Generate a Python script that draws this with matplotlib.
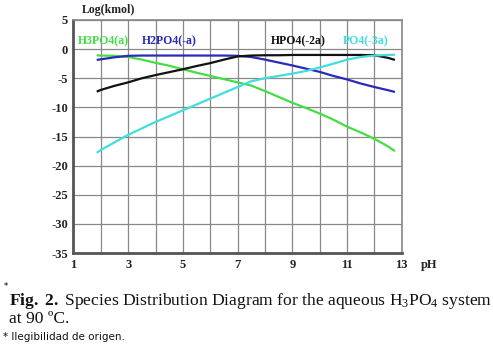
import matplotlib
matplotlib.use("Agg")
import matplotlib.pyplot as plt

plt.rcParams["mathtext.fontset"] = "custom"
plt.rcParams["mathtext.rm"] = "Liberation Serif"
plt.rcParams["mathtext.it"] = "Liberation Serif:italic"
plt.rcParams["mathtext.bf"] = "Liberation Serif:bold"

ph = [1.85, 2.0, 2.5, 3.0, 3.5, 4.0, 4.5, 5.0, 5.5, 6.0, 6.5, 7.0, 7.5, 8.0, 8.5,
      9.0, 9.5, 10.0, 10.5, 11.0, 11.5, 12.0, 12.5, 12.75]
h3po4 = [-1.05, -1.1, -1.15, -1.35, -1.8, -2.35, -2.85, -3.45, -4.05, -4.6, -5.15, -5.7,
         -6.25, -7.2, -8.2, -9.2, -10.1, -11.05, -12.1, -13.3, -14.3, -15.4, -16.7, -17.5]
h2po4 = [-1.85, -1.75, -1.4, -1.15, -1.1, -1.1, -1.1, -1.1, -1.1, -1.1, -1.1, -1.15,
         -1.35, -1.8, -2.3, -2.8, -3.35, -3.9, -4.6, -5.2, -5.9, -6.5, -7.05, -7.35]
hpo4 = [-7.3, -7.0, -6.3, -5.7, -5.0, -4.45, -3.95, -3.45, -2.9, -2.4, -1.8, -1.25,
        -1.1, -1.05, -1.05, -1.0, -1.0, -1.0, -1.0, -1.0, -1.0, -1.05, -1.5, -1.85]
po4 = [-17.8, -17.3, -16.0, -14.7, -13.6, -12.5, -11.5, -10.5, -9.5, -8.5, -7.5, -6.5,
       -5.5, -5.0, -4.6, -4.2, -3.75, -3.15, -2.5, -1.8, -1.35, -1.1, -1.0, -0.95]

series_names = ["H3PO4(a)", "H2PO4(-a)", "HPO4(-2a)", "PO4(-3a)"]
series_vals = [h3po4, h2po4, hpo4, po4]
colors = ["#44dd44", "#2a2ab8", "#111111", "#44dddd"]
label_x = [1.15, 3.5, 8.2, 10.85]

xticks = [1, 3, 5, 7, 9, 11, 13]
yticks = [5, 0, -5, -10, -15, -20, -25, -30, -35]

fig = plt.figure(figsize=(4.93, 3.57), dpi=100)
ax = fig.add_axes([0.149, 0.291, 0.666, 0.653])

for v, c in zip(series_vals, colors):
    ax.plot(ph, v, color=c, lw=1.6, solid_capstyle="butt", zorder=3)

ax.set_xlim(1, 13)
ax.set_ylim(-35, 5)
ax.set_xticks(range(1, 14))
ax.set_xticklabels([str(t) if t in xticks else "" for t in range(1, 14)])
ax.set_yticks(yticks)
ax.set_yticklabels([str(t) for t in yticks])
ax.grid(True, color="#888888", lw=0.9, zorder=1)
ax.tick_params(length=0, pad=4)
for lab in ax.get_xticklabels() + ax.get_yticklabels():
    lab.set_fontfamily("Liberation Serif")
    lab.set_fontweight("bold")
    lab.set_fontsize(9)
    lab.set_color("#222222")

for side in ["left", "bottom"]:
    ax.spines[side].set_color("#555555")
    ax.spines[side].set_linewidth(2.0)
for side in ["top", "right"]:
    ax.spines[side].set_color("#888888")
    ax.spines[side].set_linewidth(1.2)

for name, c, lx in zip(series_names, colors, label_x):
    ax.text(lx, 1.4, name, color=c, fontsize=8.5, fontfamily="Liberation Serif",
            fontweight="bold", va="center", ha="left", zorder=4)

fig.text(82 / 493, 1 - 10 / 357, "Log(kmol)", fontsize=8.5, fontfamily="Liberation Serif",
         fontweight="bold", va="center", ha="left", color="#222222")
fig.text(421 / 493, 1 - 265 / 357, "pH", fontsize=9, fontfamily="Liberation Serif",
         fontweight="bold", va="center", ha="left", color="#222222")

fig.text(4 / 493, 1 - 287 / 357, "*", fontsize=6, fontfamily="DejaVu Sans", va="center", ha="left")
fig.text(9 / 493, 1 - 301 / 357,
         r"$\mathbf{Fig.\ 2.}$ Species Distribution Diagram for the aqueous H$_3$PO$_4$ system",
         fontsize=12.6, fontfamily="Liberation Serif", va="center", ha="left", color="#111111")
fig.text(9 / 493, 1 - 319 / 357, "at 90 ºC.", fontsize=12.6, fontfamily="Liberation Serif",
         va="center", ha="left", color="#111111")
fig.text(3 / 493, 1 - 337 / 357, "* Ilegibilidad de origen.", fontsize=7.5,
         fontfamily="DejaVu Sans", va="center", ha="left", color="#111111")

fig.savefig("out.png", dpi=100)
